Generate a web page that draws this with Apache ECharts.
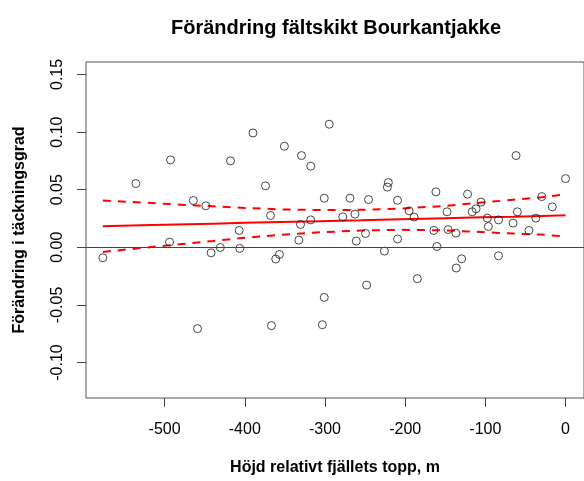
<!DOCTYPE html>
<html><head><meta charset="utf-8">
<script src="https://cdn.jsdelivr.net/npm/echarts@6/dist/echarts.min.js"></script>
<style>html,body{margin:0;padding:0;background:#fff}#c{width:584px;height:481px}</style>
</head><body><div id="c"></div>
<script>
const xTicks = [-500, -400, -300, -200, -100, 0];
const yTicks = [-0.10, -0.05, 0.00, 0.05, 0.10, 0.15];

const hojd = [-577, -535.8, -493.8, -492.6, -464.2, -458.9, -448.6, -442, -430.5, -417.8,
  -407, -406.2, -389.8, -374.1, -367.9, -366.7, -361.4, -356.8, -350.6, -332.6,
  -330.5, -329.3, -317.8, -317.8, -303.3, -300.9, -300.9, -294.7, -277.8, -268.8,
  -262.6, -261, -249.4, -248.1, -245.7, -225.9, -222.2, -221, -209.5, -209.5,
  -195.1, -188.9, -184.8, -164.2, -161.7, -160.5, -147.8, -146.5, -136.7, -136.3,
  -129.6, -122.2, -116.5, -111.6, -105.4, -97.5, -96.3, -83.6, -83.6, -65.4,
  -61.7, -60.1, -45.7, -37, -29.6, -16.5, 0];
const forandring = [-0.0091, 0.0553, 0.0045, 0.0758, 0.0406, -0.0706, 0.0360, -0.0048, -0.0002, 0.0750,
  0.0146, -0.0010, 0.0992, 0.0533, 0.0276, -0.0680, -0.0102, -0.0062, 0.0877, 0.0062,
  0.0198, 0.0796, 0.0704, 0.0238, -0.0672, 0.0426, -0.0435, 0.1068, 0.0264, 0.0426,
  0.0288, 0.0054, 0.0120, -0.0328, 0.0414, -0.0033, 0.0522, 0.0562, 0.0408, 0.0072,
  0.0316, 0.0262, -0.0273, 0.0146, 0.0481, 0.0007, 0.0308, 0.0154, 0.0123, -0.0180,
  -0.0100, 0.0461, 0.0308, 0.0334, 0.0392, 0.0253, 0.0180, 0.0238, -0.0074, 0.0210,
  0.0796, 0.0308, 0.0146, 0.0253, 0.0440, 0.0351, 0.0596];

const bandX = [-577, -530, -485, -440, -400, -355, -305, -255, -205, -150, -105, -65, -30, 0];
const fitY  = [0.0183, 0.0191, 0.0198, 0.0205, 0.0212, 0.0219, 0.0227, 0.0235, 0.0244, 0.0253, 0.0260, 0.0266, 0.0272, 0.0277];
const upperY = [0.0406, 0.0389, 0.0372, 0.0356, 0.0342, 0.0329, 0.0323, 0.0325, 0.0336, 0.0359, 0.0388, 0.0413, 0.0434, 0.0460];
const lowerY = [-0.0040, -0.0007, 0.0024, 0.0054, 0.0082, 0.0109, 0.0131, 0.0145, 0.0152, 0.0147, 0.0132, 0.0119, 0.0110, 0.0094];

const FONT = '"Liberation Sans", Arial, sans-serif';
const pts = hojd.map((x, i) => [x, forandring[i]]);
const zip = (ys) => bandX.map((x, i) => [x, ys[i]]);

const chart = echarts.init(document.getElementById('c'), null, {renderer: 'canvas'});
chart.setOption({
  animation: false,
  backgroundColor: '#ffffff',
  title: {
    text: 'Förändring fältskikt Bourkantjakke',
    left: 331, textAlign: 'center', top: 13,
    textStyle: {fontFamily: FONT, fontSize: 20, fontWeight: 'bold', color: '#000'}
  },
  grid: {left: 86, top: 62, width: 502, height: 337, show: true, borderColor: '#555', borderWidth: 1, backgroundColor: 'transparent'},
  xAxis: {
    type: 'value', min: -598, max: 23,
    name: 'Höjd relativt fjällets topp, m', nameLocation: 'middle', nameGap: 62,
    nameTextStyle: {fontFamily: FONT, fontSize: 16, fontWeight: 'bold', color: '#000'},
    axisLine: {show: false, onZero: false},
    splitLine: {show: false},
    axisTick: {show: true, length: 9, lineStyle: {color: '#444'}, customValues: xTicks},
    axisLabel: {customValues: xTicks, margin: 24, fontFamily: FONT, fontSize: 16, color: '#000',
      formatter: v => String(v)}
  },
  yAxis: {
    type: 'value', min: -0.1308, max: 0.1608,
    name: 'Förändring i täckningsgrad', nameLocation: 'middle', nameGap: 58,
    nameTextStyle: {fontFamily: FONT, fontSize: 16, fontWeight: 'bold', color: '#000'},
    axisLine: {show: false, onZero: false},
    splitLine: {show: false},
    axisTick: {show: true, length: 9, lineStyle: {color: '#444'}, customValues: yTicks},
    axisLabel: {customValues: yTicks, rotate: 90, margin: 20, fontFamily: FONT, fontSize: 16, color: '#000',
      formatter: v => v.toFixed(2)}
  },
  series: [
    {
      type: 'scatter', data: pts, symbol: 'circle', symbolSize: 8,
      itemStyle: {color: 'rgba(0,0,0,0)', borderColor: '#1a1a1a', borderWidth: 1},
      markLine: {silent: true, symbol: 'none', label: {show: false},
        lineStyle: {color: '#444', width: 1, type: 'solid'}, data: [{yAxis: 0}]},
      z: 3
    },
    {type: 'line', data: zip(fitY), showSymbol: false, lineStyle: {color: '#ff0000', width: 2}, z: 2},
    {type: 'line', data: zip(upperY), showSymbol: false, lineStyle: {color: '#ff0000', width: 2, type: [8, 7]}, z: 2},
    {type: 'line', data: zip(lowerY), showSymbol: false, lineStyle: {color: '#ff0000', width: 2, type: [8, 7]}, z: 2}
  ]
});
</script>
</body></html>
